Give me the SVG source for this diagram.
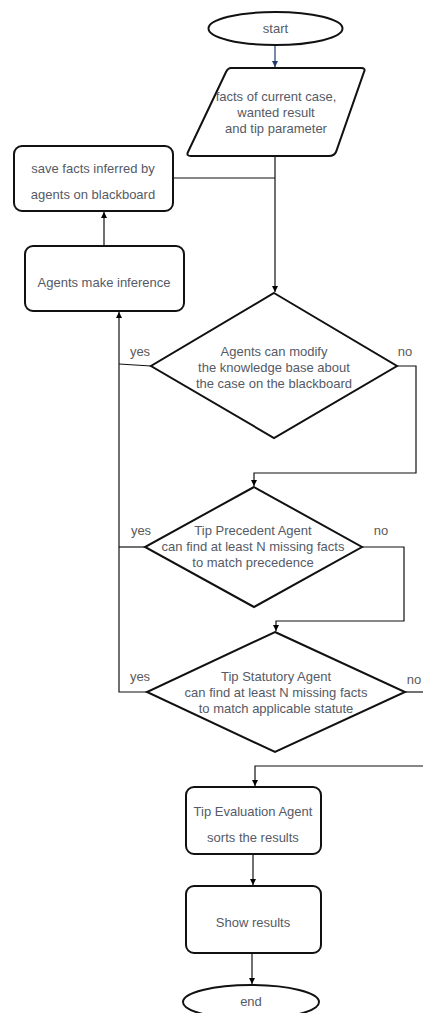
<svg xmlns="http://www.w3.org/2000/svg" width="423" height="1013" viewBox="0 0 423 1013">
<defs>
<marker id="arr" viewBox="0 0 10 10" refX="10" refY="5" markerWidth="6" markerHeight="6" orient="auto" markerUnits="userSpaceOnUse">
<path d="M0,0 L10,5 L0,10 z" fill="#000"/>
</marker>
<marker id="arrb" viewBox="0 0 10 10" refX="10" refY="5" markerWidth="6" markerHeight="6" orient="auto" markerUnits="userSpaceOnUse">
<path d="M0,0 L10,5 L0,10 z" fill="#1f3a6e"/>
</marker>
</defs>
<style>
.shape{fill:#fff;stroke:#111;stroke-width:2}
.conn{fill:none;stroke:#111;stroke-width:1.2}
text{font-family:"Liberation Sans",Arial,sans-serif;font-size:13px;fill:#555a66;text-anchor:middle}
.lbl{fill:#5a5a5a}
</style>
<rect width="423" height="1013" fill="#fff"/>
<g id="connectors">
<path class="conn" d="M275,45 V67" style="stroke:#1f3a6e" marker-end="url(#arrb)"/>
<path class="conn" d="M275,156 V292" marker-end="url(#arr)"/>
<path class="conn" d="M173,178 H275"/>
<path class="conn" d="M104,246 V212" marker-end="url(#arr)"/>
<path class="conn" d="M151,366 L119,364"/>
<path class="conn" d="M147,692 H119 V312" marker-end="url(#arr)"/>
<path class="conn" d="M145,547 H119"/>
<path class="conn" d="M397,366 H416 V473 H254 V486" marker-end="url(#arr)"/>
<path class="conn" d="M362,547 H404 V621 H276 V631" marker-end="url(#arr)"/>
<path class="conn" d="M405,692 H423"/>
<path class="conn" d="M423,766 H255 V786" marker-end="url(#arr)"/>
<path class="conn" d="M253,854 V885" marker-end="url(#arr)"/>
<path class="conn" d="M252,953 V984" marker-end="url(#arr)"/>
<text class="lbl" x="140" y="356">yes</text>
<text class="lbl" x="405" y="356">no</text>
<text class="lbl" x="141" y="535">yes</text>
<text class="lbl" x="381" y="535">no</text>
<text class="lbl" x="140" y="681">yes</text>
<text class="lbl" x="414" y="684">no</text>
</g>
<g id="start">
<ellipse class="shape" cx="275.5" cy="28.5" rx="67" ry="16.5"/>
<text x="275.5" y="33">start</text>
</g>
<g id="input">
<path class="shape" d="M231,68 H361 Q366,68 364,72 L336,152 Q334,156 329,156 H191 Q186,156 188,152 L226,72 Q228,68 231,68 Z"/>
<text x="276" y="101">facts of current case,</text>
<text x="276" y="117">wanted result</text>
<text x="276" y="133">and tip parameter</text>
</g>
<g id="save">
<rect class="shape" x="14" y="146" width="159" height="65" rx="8"/>
<text x="93" y="173">save facts inferred by</text>
<text x="93" y="199">agents on blackboard</text>
</g>
<g id="infer">
<rect class="shape" x="25" y="246" width="159" height="65" rx="8"/>
<text x="104" y="287">Agents make inference</text>
</g>
<g id="decision1">
<path class="shape" d="M274,293 L397,366 L274,438 L151,366 Z"/>
<text x="274" y="356">Agents can modify</text>
<text x="274" y="372">the knowledge base about</text>
<text x="274" y="388">the case on the blackboard</text>
</g>
<g id="decision2">
<path class="shape" d="M254,487 L362,547 L254,607 L145,547 Z"/>
<text x="253" y="535">Tip Precedent Agent</text>
<text x="253" y="551">can find at least N missing facts</text>
<text x="253" y="567">to match precedence</text>
</g>
<g id="decision3">
<path class="shape" d="M275,632 L405,692 L275,752 L147,692 Z"/>
<text x="276" y="681">Tip Statutory Agent</text>
<text x="276" y="697">can find at least N missing facts</text>
<text x="276" y="713">to match applicable statute</text>
</g>
<g id="evaluate">
<rect class="shape" x="186" y="787" width="135" height="67" rx="8"/>
<text x="253" y="816">Tip Evaluation Agent</text>
<text x="253" y="842">sorts the results</text>
</g>
<g id="show">
<rect class="shape" x="186" y="886" width="135" height="67" rx="8"/>
<text x="253" y="927">Show results</text>
</g>
<g id="end">
<ellipse class="shape" cx="251" cy="1002" rx="68" ry="17"/>
<text x="251" y="1006">end</text>
</g>
</svg>
